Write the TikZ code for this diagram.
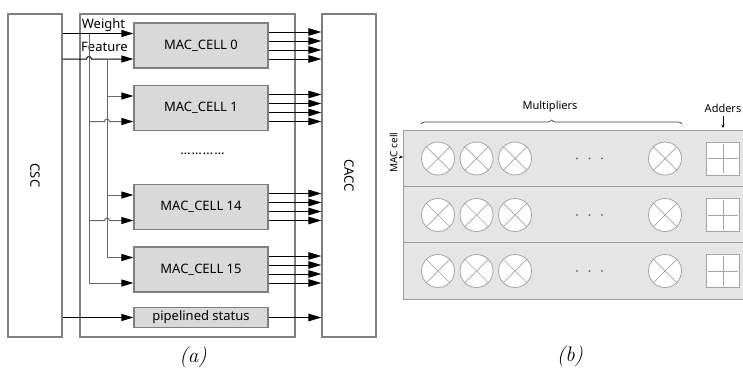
\documentclass[tikz,border=0pt]{standalone}
\usepackage{fontspec}
\usepackage{xcolor}
\newfontfamily\diagfont{Noto Sans}
\usetikzlibrary{arrows.meta, positioning, calc, decorations.pathreplacing}
\definecolor{boxGray}{RGB}{127,127,127}
\definecolor{cellFill}{RGB}{217,217,217}
\definecolor{busGray}{RGB}{105,105,105}
\definecolor{panelFill}{RGB}{229,229,229}
\definecolor{panelLine}{RGB}{160,160,160}
\definecolor{unitLine}{RGB}{165,165,165}
\tikzset{
    unitbox/.style={
        rectangle,
        draw=boxGray,
        line width=1.2pt,
        minimum width=54pt,
        minimum height=323pt
    },
    corebox/.style={
        rectangle,
        draw=boxGray,
        line width=1.2pt,
        minimum width=215pt,
        minimum height=323pt
    },
    unitlabel/.style={rotate=-90, font=\diagfont\fontsize{13}{15}\selectfont},
    macbox/.style={
        rectangle,
        draw=boxGray,
        line width=1.2pt,
        fill=cellFill,
        minimum width=134pt,
        minimum height=45pt,
        font=\diagfont\fontsize{13}{15}\selectfont
    },
    sigtext/.style={inner sep=0pt, font=\diagfont\fontsize{13}{15}\selectfont},
    flowarrow/.style={-{Triangle[length=12pt, width=7pt]}, line width=1pt, draw=black},
    outarrow/.style={-{Triangle[length=13pt, width=7.5pt]}, line width=1pt, draw=black},
    busarrow/.style={-{Triangle[length=12pt, width=7pt, color=black]}, line width=1pt, draw=busGray},
    panelline/.style={draw=panelLine, line width=0.9pt},
    mulunit/.style={circle, draw=unitLine, fill=white, line width=0.8pt, minimum size=33pt, inner sep=0pt},
    addunit/.style={rectangle, draw=unitLine, fill=white, line width=0.8pt, minimum size=33pt, inner sep=0pt},
    unitline/.style={draw=unitLine, line width=0.7pt},
    smalltext/.style={inner sep=1pt, font=\diagfont\fontsize{11}{13}\selectfont},
    tinyarrow/.style={-{Stealth[length=3.5pt, width=3pt]}, line width=0.5pt},
    bracemark/.style={decorate, decoration={brace, amplitude=4pt}, draw=black!75, line width=0.7pt},
    caption/.style={font=\fontsize{21}{25}\selectfont\itshape}
}

\begin{document}
\begin{tikzpicture}[x=1pt, y=-1pt]
    \useasboundingbox (0,0) rectangle (743,372);
    % (a) MAC array
    \node[unitbox] (csc) at (35,175.5) {};
    \node[unitlabel] (csc-text) at (csc) {CSC};
    \node[corebox] (core) at (187.5,175.5) {};
    \node[unitbox] (cacc) at (349,175.5) {};
    \node[unitlabel] (cacc-text) at (cacc) {CACC};
    \node[macbox] (mac0) at (201,45.5) {MAC\_CELL 0};
    \node[macbox] (mac1) at (201,108) {MAC\_CELL 1};
    \node[macbox] (mac14) at (201,207) {MAC\_CELL 14};
    \node[macbox] (mac15) at (201,269.5) {MAC\_CELL 15};
    \node[macbox, minimum height=20pt] (status) at (201,317.5) {pipelined status};
    \node[sigtext] (gap) at (203,154) {\kern-1pt…\kern1pt…\kern1pt…\kern1pt…};
    \node[sigtext] (weight) at (103.5,25) {Weight};
    \node[sigtext] (feature) at (104.5,47) {Feature};

    \foreach \c in {mac0,mac1,mac14,mac15}{
        \coordinate (\c-a) at ($(\c.west)+(0,-12)$);
        \coordinate (\c-b) at ($(\c.west)+(0,13.5)$);
    }
    \coordinate (wbus) at (89,0);
    \coordinate (fbus) at (107,0);

    \draw[flowarrow] (csc.east |- mac0-a) -- (mac0-a);
    \draw[flowarrow] (csc.east |- mac0-b) -- ($(wbus |- mac0-b)+(-2.5,0)$)
        arc[start angle=180, end angle=0, radius=2.5pt] -- (mac0-b);
    \draw[busarrow] (wbus |- mac0-a) -- (wbus |- mac15-b) -- (mac15-b);
    \draw[busarrow] (fbus |- mac0-b) -- (fbus |- mac15-a) -- (mac15-a);
    \foreach \c in {mac1,mac14}{
        \draw[busarrow] (fbus |- \c-a) -- (\c-a);
        \draw[busarrow] (wbus |- \c-b) -- ($(fbus |- \c-b)+(-2.5,0)$)
            arc[start angle=180, end angle=0, radius=2.5pt] -- (\c-b);
    }
    \foreach \c in {mac0,mac1,mac14,mac15}
        \foreach \d in {-13.5,-4.5,4.5,13.5}
            \draw[outarrow] ($(\c.east)+(0,\d)$) coordinate (tail) -- (tail -| cacc.west);
    \draw[flowarrow] (csc.east |- status) -- (status.west);
    \draw[outarrow] (status.east) -- (status.east -| cacc.west);

    % (b) MAC cell layout
    \coordinate (panel-nw) at (403,130);
    \fill[panelFill] (panel-nw) rectangle (743,299);
    \draw[panelline] (743,130) -- (panel-nw) -- (403,299) -- (743,299);
    \draw[panelline] (403,186.7) -- (743,186.7) (403,242.7) -- (743,242.7);
    \foreach \r/\y in {1/158.5,2/215,3/271}{
        \foreach \k/\x in {1/438,2/476.5,3/515,4/665}{
            \node[mulunit] (mul\r-\k) at (\x,\y) {};
            \draw[unitline] (mul\r-\k.45) -- (mul\r-\k.225) (mul\r-\k.135) -- (mul\r-\k.315);
        }
        \foreach \x in {577,589.5,602}
            \fill[black!55] (\x,\y) circle (1.1pt);
        \node[addunit] (add\r) at (723,\y) {};
        \draw[unitline, shorten <=2pt, shorten >=2pt] (add\r.north) -- (add\r.south);
        \draw[unitline, shorten <=2pt, shorten >=2pt] (add\r.west) -- (add\r.east);
    }
    \draw[bracemark] (mul1-1.west |- 0,124) -- (mul1-4.east |- 0,124);
    \node[smalltext] (multipliers) at (550,107) {Multipliers};
    \node[smalltext] (adders) at (723,108) {Adders};
    \draw[tinyarrow, shorten <=3pt, shorten >=2pt] (adders.south) -- (adders.south |- panel-nw);
    \node[smalltext, rotate=90, font=\diagfont\fontsize{10}{12}\selectfont] (cell-label) at (393.5,152.5) {MAC cell};
    \draw[tinyarrow] (cell-label.south |- 0,157) -- (panel-nw |- 0,157);

    \node[caption] (cap-a) at (193,357) {(a)};
    \node[caption] (cap-b) at (570,356) {(b)};
\end{tikzpicture}
\end{document}
